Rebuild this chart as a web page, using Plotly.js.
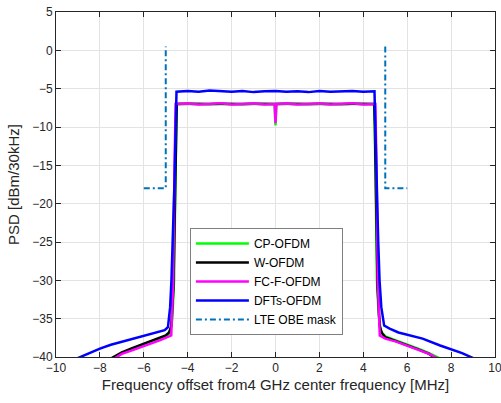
<!DOCTYPE html>
<html><head><meta charset="utf-8">
<script src="https://cdn.plot.ly/plotly-3.0.1.min.js"></script>
<style>html,body{margin:0;padding:0;background:#fff}#chart{width:501px;height:403px}</style>
</head><body><div id="chart"></div>
<script>
// CP-OFDM (green)
const cpX = [-7.45,-7.0,-6.5,-6.0,-5.5,-5.0,-4.8,-4.7,-4.62,-4.55,
  -4.5,-4.0,-3.5,-3.0,-2.5,-2.0,-1.5,-1.0,-0.5,-0.04,0,0.04,0.5,1.0,1.5,2.0,2.5,3.0,3.5,4.0,4.5,
  4.55,4.62,4.7,4.8,5.0,5.5,6.0,6.5,7.0,7.5];
const cpY = [-40.2,-39.5,-38.9,-38.3,-37.8,-37.3,-36.9,-35.0,-30.0,-15.0,
  -7.0,-7.0,-7.02,-7.0,-6.98,-7.0,-7.02,-7.0,-7.0,-7.0,-9.8,-7.0,-7.0,-7.02,-7.0,-6.98,-7.0,-7.02,-7.0,-7.0,-7.0,
  -15.0,-30.0,-34.5,-36.6,-37.3,-37.8,-38.3,-38.9,-39.5,-40.2];
// W-OFDM (black)
const wX = [-7.5,-7.0,-6.5,-6.0,-5.5,-5.0,-4.85,-4.75,-4.65,-4.58,-4.53,
  -4.5,-4.0,-3.5,-3.0,-2.5,-2.0,-1.5,-1.0,-0.5,0,0.5,1.0,1.5,2.0,2.5,3.0,3.5,4.0,4.5,
  4.53,4.58,4.65,4.75,4.85,5.0,5.5,6.0,6.5,7.0,7.3];
const wY = [-40.2,-39.4,-38.8,-38.3,-37.8,-37.2,-36.8,-36.0,-31.0,-20.0,-10.0,
  -7.0,-6.98,-7.02,-7.0,-6.98,-7.02,-7.0,-6.98,-7.02,-7.0,-6.98,-7.02,-7.0,-6.98,-7.02,-7.0,-6.98,-7.02,-7.0,
  -10.0,-20.0,-31.0,-36.0,-36.9,-37.4,-37.9,-38.4,-39.0,-39.6,-40.2];
// FC-F-OFDM (magenta)
const fcX = [-7.35,-7.0,-6.6,-6.3,-5.8,-5.25,-4.75,-4.66,-4.6,
  -4.55,-4.0,-3.5,-3.0,-2.5,-2.0,-1.5,-1.0,-0.5,-0.04,0,0.04,0.5,1.0,1.5,2.0,2.5,3.0,3.5,4.0,4.55,
  4.6,4.66,4.75,5.0,5.5,6.0,6.5,7.0,7.4];
const fcY = [-40.2,-39.6,-39.2,-38.9,-38.3,-37.8,-37.2,-30.0,-15.0,
  -7.0,-6.95,-7.05,-7.0,-6.9,-7.05,-7.0,-6.95,-7.05,-7.0,-9.5,-7.0,-6.95,-7.05,-7.0,-6.95,-7.05,-7.0,-6.9,-7.05,-7.0,
  -15.0,-30.0,-37.2,-37.6,-38.0,-38.5,-39.0,-39.6,-40.2];
// DFTs-OFDM (blue)
const dftX = [-9.05,-8.5,-8.0,-7.5,-7.0,-6.5,-6.0,-5.5,-5.05,-4.9,-4.8,-4.74,-4.68,-4.6,-4.54,
  -4.51,-4.0,-3.5,-3.0,-2.5,-2.0,-1.5,-1.0,-0.5,0,0.5,1.0,1.5,2.0,2.5,3.0,3.5,4.0,4.51,
  4.54,4.6,4.68,4.74,4.82,4.95,5.2,5.6,6.0,6.7,7.5,8.0,8.5,9.05];
const dftY = [-40.2,-39.5,-38.9,-38.4,-38.0,-37.6,-37.2,-36.8,-36.5,-36.1,-33.5,-30.0,-25.0,-17.0,-9.0,
  -5.4,-5.3,-5.4,-5.25,-5.35,-5.4,-5.3,-5.45,-5.35,-5.3,-5.4,-5.35,-5.45,-5.3,-5.4,-5.35,-5.3,-5.4,-5.35,
  -9.0,-17.0,-25.0,-30.0,-33.5,-35.9,-36.3,-36.8,-37.1,-37.6,-38.5,-39.0,-39.5,-40.2];
// LTE OBE mask
const maskX = [-6,-5,-5,null,5,5,6];
const maskY = [-18,-18,0.5,null,0.5,-18,-18];

const names = ['CP-OFDM','W-OFDM','FC-F-OFDM','DFTs-OFDM','LTE OBE mask'];

const data = [
  {x: cpX, y: cpY, name: names[0], mode:'lines', line:{color:'#00ff00', width:2.5}},
  {x: wX, y: wY, name: names[1], mode:'lines', line:{color:'#000000', width:2.5}},
  {x: fcX, y: fcY, name: names[2], mode:'lines', line:{color:'#ff00ff', width:2.5}},
  {x: dftX, y: dftY, name: names[3], mode:'lines', line:{color:'#0000ff', width:2.5}},
  {x: maskX, y: maskY, name: names[4], mode:'lines', connectgaps:false, line:{color:'#0072BD', width:2, dash:'6px,3px,2px,3px'}}
];

const fontFam = 'Liberation Sans, Arial, Helvetica, sans-serif';
const axisCommon = {
  showline:true, linecolor:'#262626', linewidth:1, mirror:'ticks',
  ticks:'inside', ticklen:5, tickcolor:'#262626',
  showgrid:true, gridcolor:'#e3e3e3', zeroline:false, ticklabeloverflow:'allow',
  tickfont:{family:fontFam, size:12, color:'#262626'}
};
const layout = {
  width:501, height:403,
  margin:{l:56, r:6, t:12, b:46},
  paper_bgcolor:'#fff', plot_bgcolor:'#fff',
  font:{family:fontFam, color:'#262626'},
  showlegend:true,
  legend:{x:0.305, y:0.374, xanchor:'left', yanchor:'top',
    bgcolor:'#fff', bordercolor:'#7f7f7f', borderwidth:1,
    font:{family:fontFam, size:12, color:'#000'}, itemwidth:53, tracegroupgap:0},
  xaxis: Object.assign({}, axisCommon, {
    range:[-10,10], tickmode:'array', tickvals:[-10,-8,-6,-4,-2,0,2,4,6,8,10],
    title:{text:'Frequency offset from4 GHz center frequency [MHz]', font:{family:fontFam, size:15, color:'#262626'}, standoff:5}
  }),
  yaxis: Object.assign({}, axisCommon, {
    range:[-40,5], tickmode:'array', tickvals:[-40,-35,-30,-25,-20,-15,-10,-5,0,5],
    title:{text:'PSD [dBm/30kHz]', font:{family:fontFam, size:15, color:'#262626'}, standoff:8}
  })
};
Plotly.newPlot('chart', data, layout, {displayModeBar:false, staticPlot:true});
</script>
</body></html>
